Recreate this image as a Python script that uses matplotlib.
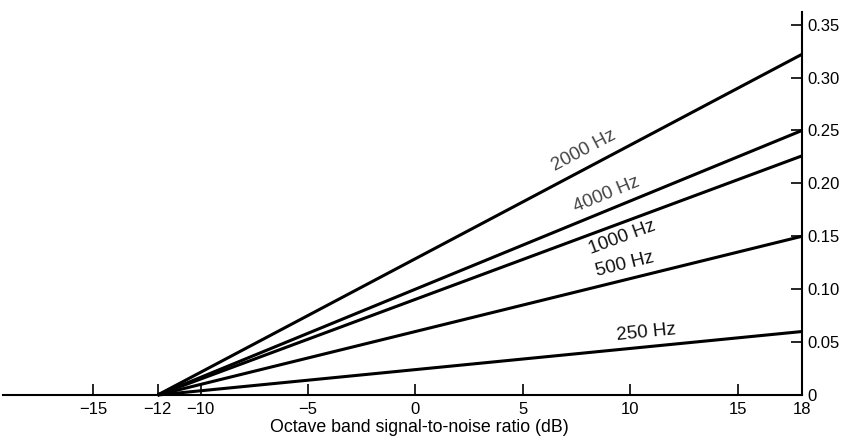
import matplotlib
matplotlib.use("Agg")
import matplotlib.pyplot as plt
import numpy as np

plt.rcParams['font.family'] = ['Liberation Sans', 'DejaVu Sans']

# Data
freq_labels = ["2000 Hz", "4000 Hz", "1000 Hz", "500 Hz", "250 Hz"]
x_start = -12
x_end = 18
end_values = [0.322, 0.25, 0.226, 0.15, 0.06]
label_x = [7.86, 8.88, 9.63, 9.77, 10.75]
label_y = [0.231, 0.189, 0.149, 0.123, 0.059]
label_colors = ["#444444", "#444444", "#111111", "#111111", "#111111"]
x_ticks = [-15, -12, -10, -5, 0, 5, 10, 15, 18]
x_ticklabels = ["\u221215", "\u221212", "\u221210", "\u22125", "0", "5", "10", "15", "18"]
y_ticks = [0, 0.05, 0.10, 0.15, 0.20, 0.25, 0.30, 0.35]
y_ticklabels = ["0", "0.05", "0.10", "0.15", "0.20", "0.25", "0.30", "0.35"]
xlabel = "Octave band signal-to-noise ratio (dB)"

fig = plt.figure(figsize=(8.46, 4.42), dpi=100)
ax = fig.add_axes([0.0035, 0.1063, 0.9445, 0.8667])

xlim = (-19.2, 18)
ylim = (0, 0.362)
ax.set_xlim(*xlim)
ax.set_ylim(*ylim)

for v in end_values:
    ax.plot([x_start, x_end], [0, v], color="black", lw=2.2, solid_capstyle="butt", clip_on=False)

# label rotation computed from the display slope
fig.canvas.draw()
for lab, lx, ly, c, v in zip(freq_labels, label_x, label_y, label_colors, end_values):
    p0 = ax.transData.transform((x_start, 0))
    p1 = ax.transData.transform((x_end, v))
    ang = np.degrees(np.arctan2(p1[1] - p0[1], p1[0] - p0[0]))
    ax.text(lx, ly, lab, rotation=ang, rotation_mode="anchor", ha="center", va="center",
            fontsize=13.5, color=c)

for s in ["top", "left"]:
    ax.spines[s].set_visible(False)
for s in ["bottom", "right"]:
    ax.spines[s].set_linewidth(1.5)
    ax.spines[s].set_color("black")

ax.set_xticks(x_ticks)
ax.set_xticklabels(x_ticklabels)
ax.set_yticks(y_ticks)
ax.set_yticklabels(y_ticklabels)
ax.yaxis.tick_right()
ax.tick_params(axis="x", direction="in", length=8, width=1.2, labelsize=12, pad=5)
ax.tick_params(axis="y", direction="in", length=8, width=1.2, labelsize=12, pad=4)
fig.text(419 / 846, 1 - 428 / 442, xlabel, fontsize=12.8, ha="center", va="center")

fig.savefig("out.png", dpi=100)
